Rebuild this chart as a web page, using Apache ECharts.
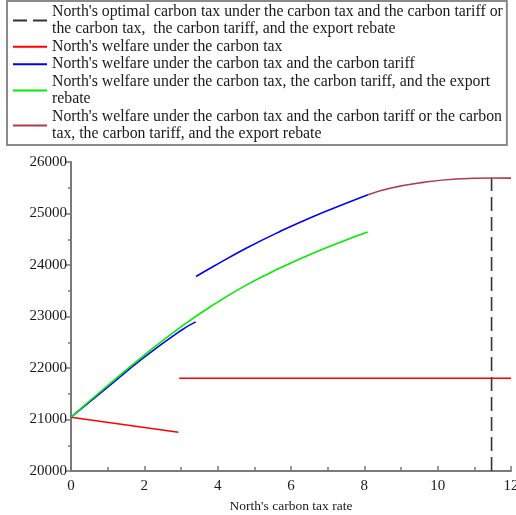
<!DOCTYPE html>
<html>
<head>
<meta charset="utf-8">
<script src="https://cdn.jsdelivr.net/npm/echarts@6/dist/echarts.min.js"></script>
<style>html,body{margin:0;padding:0;background:#fff}#c{width:516px;height:515px}</style>
</head>
<body>
<div id="c"></div>
<script>
// Legend names
const nameOptimal = "North's optimal carbon tax under the carbon tax and the carbon tariff or\nthe carbon tax,  the carbon tariff, and the export rebate";
const nameTax = "North's welfare under the carbon tax";
const nameTaxTariff = "North's welfare under the carbon tax and the carbon tariff";
const nameRebate = "North's welfare under the carbon tax, the carbon tariff, and the export\nrebate";
const nameBoth = "North's welfare under the carbon tax and the carbon tariff or the carbon\ntax, the carbon tariff, and the export rebate";

// Red: carbon tax only
const redSlopeX = [0, 2.93];
const redSlopeY = [21045, 20753];
const redFlatX = [2.95, 12];
const redFlatY = [21800, 21800];

// Blue: carbon tax and carbon tariff
const blueLowX = [0, 1, 2, 3, 3.40];
const blueLowY = [21045, 21627, 22210, 22728, 22895];
const blueHighX = [3.41, 3.88, 4.79, 5.70, 6.61, 7.52, 8.1];
const blueHighY = [23777, 23971, 24329, 24651, 24943, 25203, 25364];

// Green: carbon tax, carbon tariff and export rebate
const greenX = [0, 1, 2, 3, 3.88, 4.79, 5.70, 6.61, 7.52, 8.09];
const greenY = [21045, 21660, 22250, 22800, 23227, 23615, 23940, 24231, 24490, 24640];

// Maroon: common segment
const maroonX = [8.1, 8.70, 9.61, 10.52, 11.47, 12];
const maroonY = [25364, 25490, 25604, 25670, 25689, 25686];

// Optimal carbon tax (dashed)
const optimalX = [11.47, 11.47];
const optimalY = [20000, 25689];

const xTicks = {min: 0, max: 12, interval: 2};
const yTicks = {min: 20000, max: 26000, interval: 1000};

function pts(xs, ys) { return xs.map((x, i) => [x, ys[i]]); }

const FONT = "'Liberation Serif', 'DejaVu Serif', serif";
const chart = echarts.init(document.getElementById('c'), null, {renderer: 'canvas'});

function line(name, xs, ys, color, extra) {
  return Object.assign({
    type: 'line', name: name, data: pts(xs, ys), symbol: 'none', smooth: true,
    lineStyle: {color: color, width: 1.6}, itemStyle: {color: color}, z: 3
  }, extra || {});
}

chart.setOption({
  animation: false,
  legend: {
    orient: 'vertical', left: 7, top: 1,
    padding: [2, 4, 2, 5], itemGap: 0, itemWidth: 34, itemHeight: 14,
    borderColor: '#8a8a8a', borderWidth: 2,
    itemStyle: {opacity: 0},
    data: [nameOptimal, nameTax, nameTaxTariff, nameRebate, nameBoth],
    textStyle: {fontFamily: FONT, fontSize: 15.8, lineHeight: 17.5, color: '#1a1a1a'}
  },
  grid: {left: 71, right: 5, top: 162, bottom: 44, containLabel: false, outerBoundsMode: 'none'},
  xAxis: {
    type: 'value', min: xTicks.min, max: xTicks.max, interval: xTicks.interval,
    name: "North's carbon tax rate", nameLocation: 'middle', nameGap: 28,
    nameTextStyle: {fontFamily: FONT, fontSize: 13.5, color: '#1a1a1a'},
    axisLine: {lineStyle: {color: '#7a7a7a', width: 2}},
    axisTick: {show: true, inside: true, length: 5, lineStyle: {color: '#7a7a7a', width: 1.5}},
    minorTick: {show: true, splitNumber: 2, length: 4, lineStyle: {color: '#7a7a7a', width: 1.5}},
    axisLabel: {fontFamily: FONT, fontSize: 15, color: '#1a1a1a', margin: 8, formatter: v => String(v)},
    splitLine: {show: false}
  },
  yAxis: {
    type: 'value', min: yTicks.min, max: yTicks.max, interval: yTicks.interval,
    axisLine: {show: true, lineStyle: {color: '#7a7a7a', width: 2}},
    axisTick: {show: true, inside: false, length: 5, lineStyle: {color: '#7a7a7a', width: 1.5}},
    minorTick: {show: true, splitNumber: 2, length: 3, lineStyle: {color: '#7a7a7a', width: 1.5}},
    axisLabel: {fontFamily: FONT, fontSize: 15, color: '#1a1a1a', margin: 4, formatter: v => String(v)},
    splitLine: {show: false}
  },
  series: [
    line(nameOptimal, optimalX, optimalY, '#333333', {smooth: false, lineStyle: {color: '#333333', width: 1.6, type: [14, 6]}}),
    line(nameTax, redSlopeX, redSlopeY, '#ff0000', {smooth: false}),
    line(nameTax, redFlatX, redFlatY, '#ff0000', {smooth: false}),
    line(nameTaxTariff, blueLowX, blueLowY, '#0000ff'),
    line(nameTaxTariff, blueHighX, blueHighY, '#0000ff'),
    line(nameRebate, greenX, greenY, '#00ee00'),
    line(nameBoth, maroonX, maroonY, '#b03a4e', {z: 4})
  ]
});
</script>
</body>
</html>
